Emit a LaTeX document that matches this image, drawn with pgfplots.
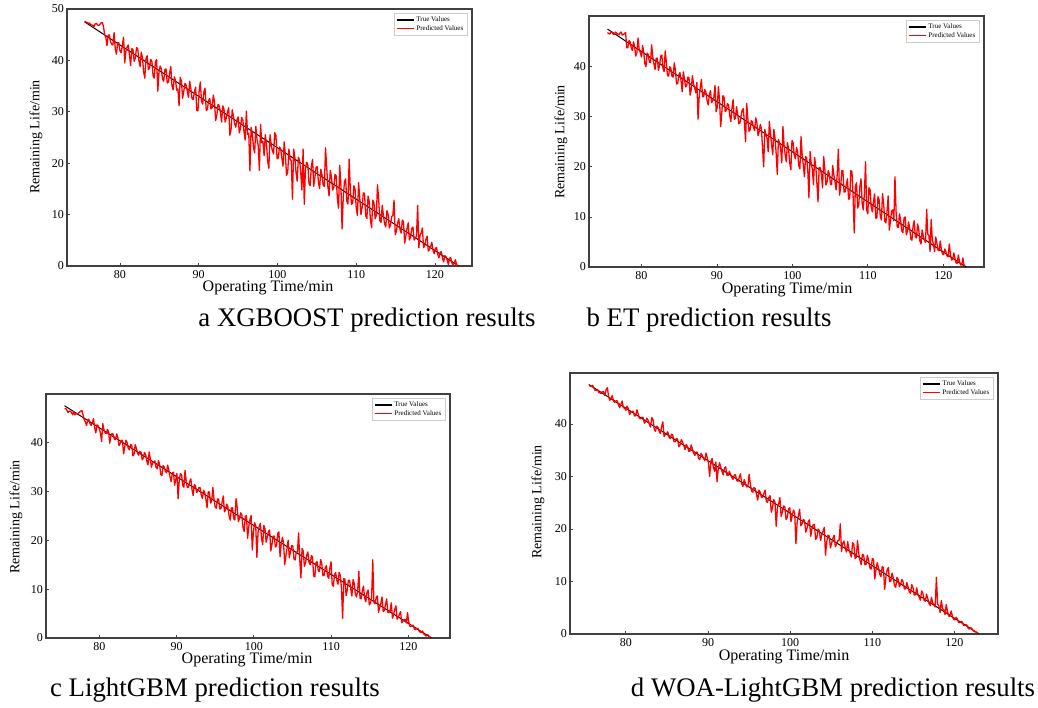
\documentclass[border=0pt]{standalone}
\usepackage{fontspec}
\setmainfont{Liberation Serif}
\usepackage{pgfplots}
\usepackage{pgfplotstable}
\pgfplotsset{compat=1.18}

% x = operating time; a..d = predicted remaining life of the four models
\pgfplotstableread{
x a b c d
75.5 47.6 46.8 46.9 47.5
75.65 47.5 46.6 46.95 47.2
75.8 47.4 46.5 46.6 47.1
75.95 47.2 46.8 46.1 47.35
76.1 47.3 46.9 46.4 46.9
76.25 47.0 46.5 46.35 46.4
76.4 46.9 46.4 46.1 46.4
76.55 46.8 46.9 45.65 46.55
76.7 46.6 46.7 46.3 46.0
76.85 47.1 46.5 45.65 45.9
77.0 47.2 46.3 45.9 45.8
77.15 46.9 46.7 45.8 46.2
77.3 46.8 46.9 46.0 46.1
77.45 47.0 46.3 46.2 45.4
77.6 47.3 46.4 46.4 46.6
77.75 47.4 46.6 46.5 46.9
77.9 46.6 46.8 45.6 45.2
78.05 45.0 43.75 44.6 44.5
78.2 44.5 43.8 44.2 44.9
78.35 42.85 45.2 43.45 45.4
78.5 44.9 44.9 44.6 44.3
78.65 44.95 43.75 44.75 44.1
78.8 43.6 43.2 43.8 44.4
78.95 43.15 44.95 43.45 44.4
79.1 43.0 43.9 44.1 43.6
79.25 45.4 42.1 44.85 43.1
79.4 42.2 42.8 43.0 43.8
79.55 41.2 45.7 41.95 44.35
79.7 43.5 43.4 43.6 43.1
79.85 43.45 42.85 43.35 43.0
80.0 41.8 41.9 42.8 42.6
80.15 41.5 44.2 41.95 43.4
80.3 42.9 42.9 40.2 42.9
80.45 44.5 40.6 43.85 41.8
80.6 39.5 40.0 42.6 42.2
80.75 41.8 42.7 41.95 42.4
80.9 42.6 42.4 41.8 42.4
81.05 43.0 40.9 42.65 41.5
81.2 41.0 40.8 42.2 41.6
81.35 39.0 44.35 39.85 42.7
81.5 42.3 42.0 41.3 41.9
81.65 42.1 40.6 41.85 41.05
81.8 39.8 39.4 41.6 41.0
81.95 40.45 41.65 40.65 41.3
82.1 42.5 41.7 40.6 41.2
82.25 42.25 39.25 41.75 40.15
82.4 40.0 40.2 41.0 40.4
82.55 38.8 42.1 39.35 41.1
82.7 41.6 42.3 39.8 40.7
82.85 40.6 39.7 40.45 40.0
83.0 37.8 39.0 40.4 39.4
83.15 36.55 43.15 37.65 41.2
83.3 40.4 40.8 39.2 40.9
83.45 40.9 38.2 40.45 39.0
83.6 38.2 38.1 40.0 38.6
83.75 38.5 40.0 38.75 39.55
83.9 40.2 39.6 38.5 39.4
84.05 39.85 38.05 39.55 38.6
84.2 37.0 37.9 39.5 38.2
84.35 36.55 40.75 37.25 39.5
84.5 39.8 39.3 37.6 40.4
84.65 40.15 36.55 39.55 37.6
84.8 34.0 36.6 38.8 38.0
84.95 37.75 38.35 37.85 38.15
85.1 38.9 38.8 37.4 38.5
85.25 38.35 37.15 38.15 37.5
85.4 36.4 35.0 38.0 37.2
85.55 35.95 38.95 36.45 38.05
85.7 38.2 37.6 36.8 37.9
85.85 38.35 35.95 37.95 36.65
86.0 35.6 36.2 37.5 36.6
86.15 35.8 37.9 36.15 37.25
86.3 37.5 37.8 35.4 37.1
86.45 38.8 34.3 38.05 35.65
86.6 35.0 35.4 36.7 36.0
86.75 34.3 38.2 34.95 37.0
86.9 36.8 36.5 35.8 36.6
87.05 36.1 35.8 36.05 35.9
87.2 34.2 34.8 36.2 35.1
87.35 34.45 36.85 34.85 36.1
87.5 31.2 29.5 34.6 35.7
87.65 36.7 34.0 36.25 34.8
87.8 36.0 35.8 35.6 34.8
87.95 32.65 37.45 33.45 36.0
88.1 34.0 34.0 33.2 35.2
88.25 35.5 34.0 35.25 34.45
88.4 35.2 35.4 35.0 34.0
88.55 34.0 34.9 34.15 34.65
88.7 32.8 33.2 33.8 34.6
88.85 35.95 32.35 35.35 33.45
89.0 34.5 34.4 34.4 33.2
89.15 32.5 35.2 32.95 34.4
89.3 32.4 32.8 32.0 34.0
89.45 33.85 33.25 33.75 33.45
89.6 34.8 33.9 33.9 33.0
89.75 30.25 36.25 31.25 34.45
89.9 30.2 31.0 32.4 33.6
90.05 34.0 31.9 33.65 32.55
90.2 35.8 36.0 28.5 30.0
90.35 32.05 33.25 32.25 32.9
90.5 31.5 28.0 33.6 33.4
90.65 33.85 30.85 33.35 31.75
90.8 34.6 34.2 31.2 31.0
90.95 30.25 33.85 30.85 32.75
91.1 30.5 31.0 34.3 29.0
91.25 32.2 31.3 32.05 31.55
91.4 32.6 32.6 30.8 32.6
91.55 30.55 32.35 30.85 31.8
91.7 30.8 30.2 32.0 31.0
91.85 33.25 29.05 32.55 30.3
92.0 31.9 31.8 30.4 31.6
92.15 28.3 33.4 29.15 31.85
92.3 29.4 29.5 31.4 30.2
92.45 31.45 29.65 31.15 30.2
92.6 31.2 32.0 29.8 31.0
92.75 29.95 30.55 30.05 30.35
92.9 28.0 28.6 30.8 29.8
93.05 31.15 28.75 30.75 29.45
93.2 30.6 30.2 29.2 30.3
93.35 28.0 31.3 28.55 30.3
93.5 28.8 31.6 30.2 29.2
93.65 29.95 28.75 29.75 29.1
93.8 30.8 25.0 28.4 29.8
93.95 25.45 32.65 26.65 30.5
94.1 26.5 29.6 29.9 28.6
94.25 30.4 27.1 29.85 28.1
94.4 29.2 27.4 27.6 29.4
94.55 27.7 29.2 27.95 28.75
94.7 27.0 29.0 30.8 28.0
94.85 28.45 27.85 28.35 28.05
95.0 29.0 27.2 26.8 30.4
95.15 25.9 29.8 26.55 28.6
95.3 26.8 28.8 28.4 27.2
95.45 28.9 26.2 28.45 27.0
95.6 28.4 27.0 26.4 27.9
95.75 26.05 28.45 26.45 27.7
95.9 24.5 27.6 27.8 26.6
96.05 30.15 23.75 29.05 25.5
96.2 25.6 20.0 25.8 27.4
96.35 25.85 27.45 26.15 27.0
96.5 18.5 26.4 27.4 26.0
96.65 26.95 25.75 26.75 26.1
96.8 25.8 23.0 25.0 26.8
96.95 23.05 29.05 24.1 27.4
97.1 22.0 26.6 26.6 25.2
97.25 27.15 24.35 26.65 25.1
97.4 24.6 22.4 24.4 26.0
97.55 23.45 27.45 24.15 26.35
97.7 18.6 25.8 28.5 23.2
97.85 27.55 22.75 26.7 24.1
98.0 24.0 18.5 23.8 25.6
98.15 24.25 25.45 24.45 25.1
98.3 21.5 24.8 25.6 20.5
98.45 25.55 23.55 25.2 24.1
98.6 23.8 20.8 22.6 24.8
98.75 20.45 28.05 21.8 25.95
98.9 19.0 24.4 24.9 22.4
99.05 25.55 22.35 25.0 23.25
99.2 23.5 21.0 20.4 24.4
99.35 22.45 24.85 22.85 24.2
99.5 21.8 23.6 24.2 21.8
99.65 25.95 20.75 25.05 22.2
99.8 25.4 19.4 18.0 23.8
99.95 20.85 25.25 21.6 24.05
100.1 21.0 24.8 23.6 21.4
100.25 23.15 22.35 23.0 22.55
100.4 22.8 21.6 16.5 23.6
100.55 21.05 23.85 21.55 23.1
100.7 19.4 23.0 22.8 17.2
100.85 24.15 20.15 23.45 21.25
101.0 21.6 19.6 20.4 22.6
101.15 17.65 26.05 19.1 23.75
101.3 18.2 22.4 23.0 20.6
101.45 22.75 20.35 22.35 21.0
101.6 20.8 18.0 19.6 21.8
101.75 20.45 22.05 20.7 21.6
101.9 13.0 21.8 21.8 19.4
102.05 22.75 19.15 22.1 20.15
102.2 21.2 13.8 17.8 21.4
102.35 18.25 23.05 19.1 21.75
102.5 16.5 20.6 20.8 18.6
102.65 21.15 19.55 20.85 20.0
102.8 20.6 16.4 18.6 20.8
102.95 18.25 21.85 18.9 20.85
103.1 14.8 20.2 21.4 18.0
103.25 22.75 16.75 21.7 18.4
103.4 12.0 13.0 16.6 20.0
103.55 19.05 19.85 19.2 19.65
103.7 20.2 19.8 20.6 17.8
103.85 19.75 18.55 19.55 18.9
104.0 16.0 15.8 15.0 19.6
104.15 15.65 22.05 16.75 20.3
104.3 19.4 19.6 18.4 15.0
104.45 20.75 16.35 20.0 17.55
104.6 15.5 17.0 16.4 18.8
104.75 17.25 19.25 17.6 18.7
104.9 19.2 18.6 18.9 16.4
105.05 19.35 16.55 18.85 17.3
105.2 16.2 16.4 16.2 18.2
105.35 15.05 20.25 15.95 18.8
105.5 18.8 18.4 17.6 16.6
105.65 17.75 16.95 17.6 17.15
105.8 15.8 15.4 21.5 17.8
105.95 15.45 18.65 16.0 17.75
106.1 23.0 23.5 12.3 21.0
106.25 19.15 14.35 18.3 15.7
106.4 15.4 15.8 17.8 17.2
106.55 13.65 19.25 14.65 17.7
106.7 18.6 19.2 15.4 16.4
106.85 17.35 14.95 16.95 15.6
107.0 14.8 15.0 17.6 17.6
107.15 15.25 16.45 15.45 16.1
107.3 17.8 17.6 15.0 15.4
107.45 17.55 13.55 16.85 14.65
107.6 13.2 13.6 16.6 17.4
107.75 11.25 19.25 12.65 17.05
107.9 19.6 19.0 12.5 14.4
108.05 15.75 14.15 15.45 14.6
108.2 7.2 6.8 15.6 17.8
108.35 13.25 16.05 13.75 15.3
108.5 16.4 16.8 13.6 14.0
108.65 16.95 11.75 16.05 13.2
108.8 12.6 12.4 15.2 15.2
108.95 12.05 16.05 12.75 14.95
109.1 20.8 17.6 12.8 13.2
109.25 14.75 12.75 14.4 13.3
109.4 12.0 11.4 14.8 15.0
109.55 12.25 14.65 12.65 14.0
109.7 15.6 21.0 12.2 12.6
109.85 14.95 11.35 14.3 12.35
110.0 11.2 10.6 15.6 14.4
110.15 9.85 15.85 10.9 14.2
110.3 16.2 15.4 10.6 10.5
110.45 13.15 11.95 12.95 12.3
110.6 10.0 11.0 13.4 13.6
110.75 11.45 13.05 11.75 12.6
110.9 14.2 14.6 11.0 11.4
111.05 14.15 9.75 13.4 10.95
111.2 9.8 9.8 12.8 12.8
111.35 9.25 14.05 10.1 12.7
111.5 13.6 13.4 4.0 8.5
111.65 12.55 10.15 12.15 10.8
111.8 9.0 9.4 12.0 12.2
111.95 7.45 14.65 8.7 12.65
112.1 12.8 12.6 9.8 10.0
112.25 12.35 9.15 11.8 10.05
112.4 9.2 8.8 11.8 11.6
112.55 9.85 11.05 10.05 10.7
112.7 15.8 14.2 8.6 9.2
112.85 12.95 7.35 11.95 8.9
113.0 8.8 9.2 11.2 10.8
113.15 8.5 11.2 8.95 10.4
113.3 11.8 11.4 8.4 9.0
113.45 9.85 9.25 9.75 9.45
113.6 8.2 18.0 13.6 10.4
113.75 7.6 10.9 8.15 9.9
113.9 10.8 8.0 8.0 8.6
114.05 10.0 7.9 9.65 8.55
114.2 7.4 10.6 10.6 9.8
114.35 7.9 9.4 8.15 8.95
114.5 9.6 7.2 7.4 8.0
114.65 9.85 6.85 9.35 7.75
114.8 12.8 9.8 9.8 9.4
114.95 6.1 10.0 6.75 8.85
115.1 6.8 6.4 7.2 7.4
115.25 8.35 7.15 8.15 7.5
115.4 9.2 9.0 16.0 8.8
115.55 7.15 7.75 7.25 7.55
115.7 6.4 5.6 7.0 7.0
115.85 8.95 5.35 8.35 6.45
116.0 8.6 8.2 8.6 8.2
116.15 4.45 9.25 5.25 7.8
116.3 5.8 6.0 6.2 6.4
116.45 7.3 5.8 7.05 6.25
116.6 8.4 8.6 8.4 7.6
116.75 5.05 7.45 5.45 6.75
116.9 5.6 5.2 5.6 5.8
117.05 7.3 4.6 6.85 5.4
117.2 7.6 7.4 8.0 7.0
117.35 5.05 6.25 5.25 5.9
117.5 5.4 5.4 5.2 5.6
117.65 5.8 4.9 5.65 5.15
117.8 11.8 11.5 7.2 10.8
117.95 3.55 6.55 4.05 5.65
118.1 6.0 6.2 4.8 5.4
118.25 6.4 3.1 5.85 4.1
118.4 7.4 9.5 6.6 6.4
118.55 3.55 5.35 3.85 4.8
118.7 4.0 4.6 4.2 4.6
118.85 5.2 3.1 4.85 3.7
119.0 5.8 6.0 5.4 5.6
119.15 2.9 4.8 3.1 4.3
119.3 3.2 3.4 3.4 3.4
119.45 3.85 3.25 3.8 3.4
119.6 4.6 5.2 3.8 4.4
119.75 3.0 3.5 3.05 3.35
119.9 2.4 2.6 5.2 2.8
120.05 3.45 2.5 3.3 2.7
120.2 3.6 3.6 2.4 3.2
120.35 2.25 3.05 2.35 2.85
120.5 1.6 2.2 2.6 2.2
120.65 2.65 2.05 2.6 2.2
120.8 2.8 4.6 1.8 2.4
120.95 1.55 2.55 1.7 2.3
121.1 0.8 1.4 2.0 1.6
121.25 2.0 1.5 1.95 1.65
121.4 1.8 2.8 1.4 1.8
121.55 1.15 1.75 1.2 1.6
121.7 0.3 0.8 1.2 1.0
121.85 1.55 0.75 1.45 0.95
122.0 1.6 2.4 0.8 1.2
122.15 0.6 1.1 0.65 0.95
122.3 0.1 0.4 0.4 0.6
122.45 0.7 0.4 0.65 0.45
122.6 1.2 1.8 0.6 0.4
122.75 0.15 0.35 0.2 0.3
122.9 0.0 0.2 0.2 0.1
}\rultable

\pgfplotsset{
  rulpanel/.style={
    scale only axis, anchor=north west,
    ymin=0, xtick={80,90,...,120},
    axis line style={draw=black!75, line width=1.1pt},
    tick style={draw=black!75, line width=0.8pt},
    tick align=inside, major tick length=3pt, tick pos=left,
    tick label style={font=\fontsize{12}{12}\selectfont, inner sep=1pt},
    xticklabel style={yshift=-3pt},
    yticklabel style={xshift=-2pt},
    /pgf/number format/assume math mode=true,
    legend style={at={(1,1)}, anchor=north east, xshift=-5pt, yshift=-4pt,
      draw=black!20, font=\fontsize{7}{8}\selectfont, inner sep=1.5pt,
      row sep=-1.5pt, cells={anchor=west}},
    legend image post style={line width=1.5pt},
  },
  truestyle/.style={black, line width=1pt},
  predstyle/.style={red, line width=1.3pt, line join=round},
}

\newcommand{\xlab}{\fontsize{16}{16}\selectfont}
\newcommand{\ylab}{\fontsize{14}{14}\selectfont}
\newcommand{\capfont}{\fontsize{26.8}{26.8}\selectfont}

\begin{document}
\begin{tikzpicture}
\path[use as bounding box] (0pt,0pt) rectangle (1038pt,-707pt);

% a XGBOOST
\begin{axis}[rulpanel, at={(67pt,-9pt)}, width=405pt, height=257pt,
  xmin=73.27, xmax=124.7, ymax=50, ytick={0,10,...,50}]
\addplot[truestyle] coordinates {(75.5,47.5) (123,0)};
\addlegendentry{True Values}
\addplot[predstyle] table[x=x, y=a] {\rultable};
\addlegendentry{Predicted Values}
\end{axis}

% b ET
\begin{axis}[rulpanel, at={(589pt,-16pt)}, width=395pt, height=251pt,
  xmin=73.05, xmax=125.4, ymax=50.1, ytick={0,10,...,40}]
\addplot[truestyle] coordinates {(75.5,47.5) (123,0)};
\addlegendentry{True Values}
\addplot[predstyle] table[x=x, y=b] {\rultable};
\addlegendentry{Predicted Values}
\end{axis}

% c LightGBM
\begin{axis}[rulpanel, at={(46pt,-394pt)}, width=404pt, height=244pt,
  xmin=73.1, xmax=125.4, ymax=49.9, ytick={0,10,...,40}]
\addplot[truestyle] coordinates {(75.5,47.5) (123,0)};
\addlegendentry{True Values}
\addplot[predstyle] table[x=x, y=c] {\rultable};
\addlegendentry{Predicted Values}
\end{axis}

% d WOA-LightGBM
\begin{axis}[rulpanel, at={(570pt,-373pt)}, width=428pt, height=261pt,
  xmin=73.2, xmax=125.3, ymax=49.7, ytick={0,10,...,40}]
\addplot[truestyle] coordinates {(75.5,47.5) (123,0)};
\addlegendentry{True Values}
\addplot[predstyle] table[x=x, y=d] {\rultable};
\addlegendentry{Predicted Values}
\end{axis}

% axis labels
\node[font=\xlab, inner sep=0pt] at (268pt,-288pt) {Operating Time/min};
\node[font=\xlab, inner sep=0pt] at (787pt,-289.5pt) {Operating Time/min};
\node[font=\xlab, inner sep=0pt] at (247pt,-660pt) {Operating Time/min};
\node[font=\xlab, inner sep=0pt] at (784pt,-657pt) {Operating Time/min};
\node[font=\ylab, rotate=90, inner sep=0pt] at (36pt,-137pt) {Remaining Life/min};
\node[font=\ylab, rotate=90, inner sep=0pt] at (561pt,-142pt) {Remaining Life/min};
\node[font=\ylab, rotate=90, inner sep=0pt] at (16pt,-517pt) {Remaining Life/min};
\node[font=\ylab, rotate=90, inner sep=0pt] at (538pt,-502pt) {Remaining Life/min};

% captions
\node[font=\capfont] at (367pt,-320pt) {a XGBOOST prediction results};
\node[font=\capfont] at (709pt,-320pt) {b ET prediction results};
\node[font=\capfont] at (215pt,-690pt) {c LightGBM prediction results};
\node[font=\capfont] at (833pt,-690pt) {d WOA-LightGBM prediction results};
\end{tikzpicture}
\end{document}
